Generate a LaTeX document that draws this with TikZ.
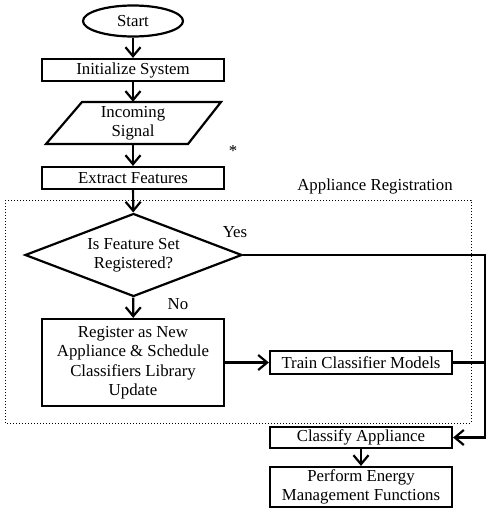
\documentclass[tikz,border=0pt]{standalone}
\usepackage{fontspec}
\setmainfont{Liberation Serif}
\usetikzlibrary{shapes.geometric,arrows.meta}
\begin{document}
\begin{tikzpicture}[x=1pt,y=-1pt,
  every node/.style={font=\fontsize{16.8}{19.5}\selectfont, inner sep=0pt, align=center},
  box/.style={draw, line width=2.2pt, minimum width=182pt},
  conn/.style={line width=2.2pt, -{Straight Barb[length=9pt,width=15pt,line width=2.2pt]}},
  plain/.style={line width=2.2pt}]
\useasboundingbox (0,0) rectangle (486,509);
\node[draw, line width=2.2pt, ellipse, minimum width=100pt, minimum height=31pt] (start) at (133,21) {Start};
\node[box, minimum height=22pt] (init) at (133,70) {Initialize System};
\draw[line width=2.2pt] (82,102) -- (221,102) -- (188,144) -- (46,144) -- cycle;
\node[minimum width=100pt, minimum height=42pt] (sig) at (133,123) {Incoming\\Signal};
\node (ast) at (233,151) {*};
\node[box, minimum height=22pt] (extract) at (133,178) {Extract Features};
\node (areg) at (375,186) {Appliance Registration};
\draw[dotted, line width=1pt] (5,200) rectangle (471,423);
\node[draw, line width=2.2pt, diamond, aspect=2.6, minimum width=217pt, minimum height=83pt] (dec) at (133.5,255) {Is Feature Set\\Registered?};
\node (yes) at (235,232) {Yes};
\node (no) at (178,304) {No};
\node[box, minimum height=87pt] (reg) at (133,362.5) {Register as New\\Appliance \& Schedule\\Classifiers Library\\Update};
\node[box, minimum height=23pt] (train) at (361,362.5) {Train Classifier Models};
\node[box, minimum height=21pt] (classify) at (361,437.5) {Classify Appliance};
\node[box, minimum height=40pt] (perform) at (361,487) {Perform Energy\\Management Functions};
\coordinate (r1) at (485.5,255);
\coordinate (r2) at (485.5,437.5);
\coordinate (r3) at (485.5,362.5);
\draw[conn] (start) -- (init);
\draw[conn] (init) -- (sig);
\draw[conn] (sig) -- (extract);
\draw[conn] (extract) -- (dec);
\draw[conn] (dec) -- (reg);
\draw[conn] (reg.east |- train) -- (train);
\draw[plain] (dec.east) -- (r1) -- (r2);
\draw[conn] (r2) -- (classify.east);
\draw[plain] (train.east) -- (r3);
\draw[conn] (classify) -- (perform);
\end{tikzpicture}
\end{document}
